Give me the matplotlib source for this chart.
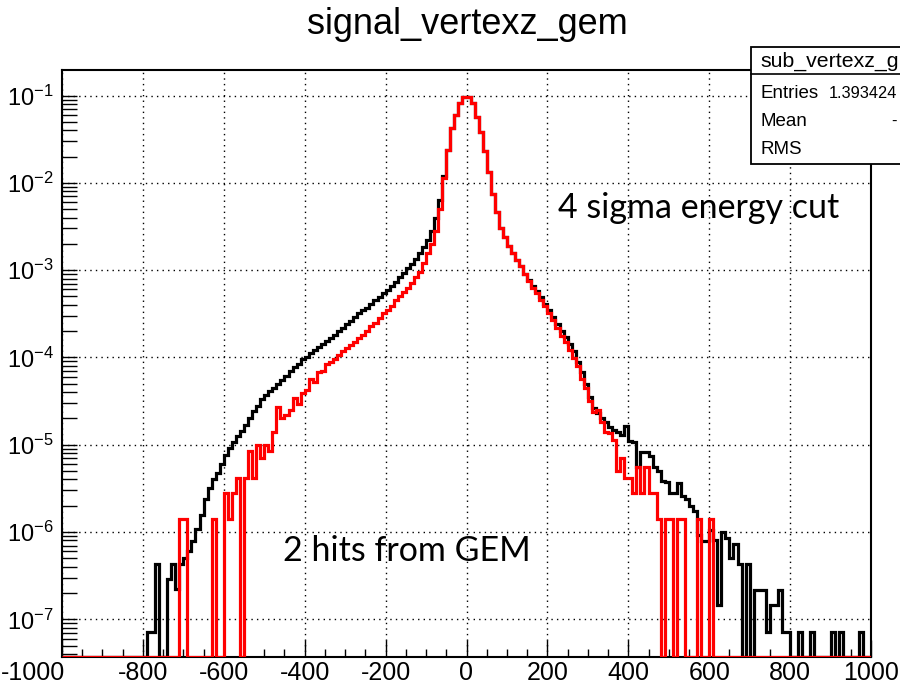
import numpy as np
import matplotlib
matplotlib.use("Agg")
import matplotlib.pyplot as plt
import matplotlib.transforms as mtransforms
from matplotlib.ticker import MultipleLocator, LogLocator, NullFormatter, FixedLocator
from matplotlib.patches import Rectangle
from matplotlib.lines import Line2D

plt.rcParams['font.family'] = ['Liberation Sans', 'DejaVu Sans']
plt.rcParams['mathtext.fontset'] = 'custom'
plt.rcParams['mathtext.rm'] = 'Liberation Sans'
plt.rcParams['mathtext.it'] = 'Liberation Sans'
plt.rcParams['mathtext.bf'] = 'Liberation Sans'

# ---------------- data ----------------
title = "signal_vertexz_gem"
x_min, x_max, n_bins = -1000, 1000, 200
x_ticks = [-1000, -800, -600, -400, -200, 0, 200, 400, 600, 800, 1000]
y_ticks = [1e-7, 1e-6, 1e-5, 1e-4, 1e-3, 1e-2, 1e-1]

# black histogram (all events), bins of width 10 from -1000 to 1000
black_vals = [
    0, 0, 0, 0, 0, 0, 0, 0, 0, 0,                                              # -995..-905
    0, 0, 0, 0, 0, 0, 0, 0, 0, 0,                                              # -895..-805
    0, 7.2e-8, 7.2e-8, 4.3e-7, 0, 0, 2.9e-7, 4.3e-7, 2.2e-7, 4.3e-7,           # -795..-705
    5.0e-7, 6.0e-7, 7.9e-7, 1.07e-6, 1.58e-6, 2.4e-6, 3.2e-6, 4.0e-6, 4.8e-6, 6.0e-6,   # -695..-605
    7.6e-6, 9.1e-6, 1.07e-5, 1.26e-5, 1.45e-5, 1.66e-5, 2.0e-5, 2.45e-5, 2.8e-5, 3.3e-5, # -595..-505
    3.7e-5, 4.1e-5, 4.5e-5, 4.9e-5, 5.5e-5, 6.2e-5, 6.9e-5, 7.8e-5, 8.5e-5, 9.5e-5,     # -495..-405
    1.02e-4, 1.12e-4, 1.2e-4, 1.32e-4, 1.41e-4, 1.55e-4, 1.66e-4, 1.8e-4, 2.0e-4, 2.2e-4, # -395..-305
    2.4e-4, 2.6e-4, 2.9e-4, 3.2e-4, 3.5e-4, 3.7e-4, 4.1e-4, 4.5e-4, 4.9e-4, 5.4e-4,     # -295..-205
    5.9e-4, 6.6e-4, 7.4e-4, 8.3e-4, 9.3e-4, 1.05e-3, 1.17e-3, 1.35e-3, 1.58e-3, 1.86e-3, # -195..-105
    2.24e-3, 2.8e-3, 4.0e-3, 6.3e-3, 1.2e-2, 2.4e-2, 4.2e-2, 6.0e-2, 8.3e-2, 9.6e-2,    # -95..-5
    9.6e-2, 8.3e-2, 5.6e-2, 3.8e-2, 2.3e-2, 1.32e-2, 7.4e-3, 4.6e-3, 3.0e-3, 2.4e-3,    # 5..95
    1.9e-3, 1.55e-3, 1.29e-3, 1.1e-3, 9.1e-4, 7.8e-4, 6.6e-4, 5.75e-4, 4.9e-4, 4.1e-4,  # 105..195
    3.5e-4, 2.9e-4, 2.4e-4, 2.0e-4, 1.7e-4, 1.41e-4, 1.17e-4, 8.9e-5, 6.8e-5, 5.0e-5,   # 205..295
    3.5e-5, 2.6e-5, 2.3e-5, 2.0e-5, 1.8e-5, 1.58e-5, 1.48e-5, 1.38e-5, 1.29e-5, 1.62e-5, # 305..395
    1.1e-5, 1.07e-5, 5.6e-6, 8.3e-6, 8.3e-6, 7.4e-6, 5.5e-6, 5.0e-6, 3.8e-6, 3.7e-6,    # 405..495
    2.8e-6, 2.8e-6, 3.6e-6, 2.6e-6, 2.4e-6, 2.0e-6, 1.75e-6, 9.3e-7, 7.8e-7, 7.8e-7,    # 505..595
    1.05e-6, 8.1e-7, 1.44e-7, 1.0e-6, 8.6e-7, 5.0e-7, 7.2e-7, 4.3e-7, 0, 4.3e-7,       # 605..695
    0, 2.15e-7, 2.15e-7, 2.15e-7, 7.2e-8, 1.44e-7, 1.44e-7, 2.15e-7, 7.2e-8, 7.2e-8,   # 705..795
    0, 0, 7.2e-8, 0, 0, 7.2e-8, 0, 0, 0, 0,                                        # 805..895
    7.2e-8, 0, 7.2e-8, 0, 0, 0, 0, 7.2e-8, 0, 0,                                   # 905..995
]

# red histogram (2 hits from GEM)
red_vals = [
    0, 0, 0, 0, 0, 0, 0, 0, 0, 0,                                              # -995..-905
    0, 0, 0, 0, 0, 0, 0, 0, 0, 0,                                              # -895..-805
    0, 0, 0, 0, 0, 0, 0, 0, 0, 1.4e-6,                                         # -795..-705
    1.4e-6, 0, 0, 0, 0, 0, 0, 1.4e-6, 0, 0,                                    # -695..-605
    2.8e-6, 1.4e-6, 2.8e-6, 4.2e-6, 0, 4.2e-6, 8.4e-6, 4.2e-6, 9.8e-6, 7.0e-6,      # -595..-505
    9.8e-6, 8.4e-6, 1.4e-5, 2.7e-5, 2.0e-5, 2.2e-5, 2.5e-5, 3.4e-5, 2.9e-5, 3.9e-5,    # -495..-405
    4.2e-5, 5.6e-5, 5.2e-5, 6.8e-5, 7.0e-5, 8.3e-5, 8.9e-5, 9.5e-5, 1.07e-4, 1.17e-4,  # -395..-305
    1.29e-4, 1.38e-4, 1.5e-4, 1.66e-4, 1.8e-4, 2.0e-4, 2.3e-4, 2.5e-4, 2.8e-4, 3.2e-4, # -295..-205
    3.5e-4, 3.9e-4, 4.5e-4, 5.0e-4, 5.6e-4, 6.3e-4, 7.2e-4, 8.3e-4, 9.5e-4, 1.2e-3,    # -195..-105
    1.58e-3, 2.0e-3, 2.8e-3, 5.0e-3, 1.15e-2, 2.4e-2, 4.2e-2, 6.0e-2, 8.3e-2, 9.6e-2,  # -95..-5
    9.6e-2, 8.3e-2, 5.6e-2, 3.8e-2, 2.3e-2, 1.32e-2, 7.4e-3, 4.6e-3, 3.0e-3, 2.4e-3,   # 5..95
    1.9e-3, 1.55e-3, 1.29e-3, 1.1e-3, 9.1e-4, 7.6e-4, 6.3e-4, 5.5e-4, 4.5e-4, 3.9e-4,  # 105..195
    3.2e-4, 2.7e-4, 2.2e-4, 1.75e-4, 1.5e-4, 1.2e-4, 9.8e-5, 7.9e-5, 5.6e-5, 4.5e-5,   # 205..295
    3.2e-5, 2.4e-5, 2.5e-5, 1.8e-5, 1.4e-5, 1.35e-5, 1.12e-5, 5.0e-6, 7.0e-6, 4.2e-6,  # 305..395
    4.2e-6, 2.8e-6, 5.6e-6, 2.8e-6, 5.6e-6, 2.8e-6, 2.8e-6, 1.4e-6, 0, 1.4e-6,        # 405..495
    1.4e-6, 0, 1.4e-6, 1.4e-6, 0, 0, 0, 1.4e-6, 0, 0,                                 # 505..595
    1.4e-6, 0, 0, 0, 0, 0, 0, 0, 0, 0,                                                # 605..695
    0, 0, 0, 0, 0, 0, 0, 0, 0, 0,                                                     # 705..795
    0, 0, 0, 0, 0, 0, 0, 0, 0, 0,                                                     # 805..895
    0, 0, 0, 0, 0, 0, 0, 0, 0, 0,                                                     # 905..995
]

# stats box texts as far as they are visible in the original canvas
stats_title = "sub_vertexz_g"
stats_rows = [("Entries", "1.393424"), ("Mean", "-"), ("RMS", "")]
label_cut = "4 sigma energy cut"
label_gem = "2 hits from GEM"

# ---------------- figure ----------------
W, H = 900, 686
fig = plt.figure(figsize=(W / 100, H / 100), dpi=100)
L, R, T, B = 62, 871, 70, 657
ax = fig.add_axes([L / W, 1 - B / H, (R - L) / W, (B - T) / H])

y_lo, y_hi = 3.7e-8, 0.196
ax.set_yscale('log')
ax.set_xlim(x_min, x_max)
ax.set_ylim(y_lo, y_hi)

edges = np.linspace(x_min, x_max, n_bins + 1)
bv = np.array(black_vals, dtype=float)
rv = np.array(red_vals, dtype=float)
ax.stairs(np.where(bv > 0, bv, y_lo), edges, baseline=None, color='black', lw=2.3, zorder=3)
ax.stairs(np.where(rv > 0, rv, y_lo), edges, baseline=None, color='#ff0000', lw=2.3, zorder=4)

ax.xaxis.set_major_locator(FixedLocator(x_ticks))
ax.xaxis.set_minor_locator(MultipleLocator(50))
ax.yaxis.set_major_locator(FixedLocator(y_ticks))
ax.yaxis.set_minor_locator(LogLocator(base=10, subs=np.arange(2, 10), numticks=20))
ax.yaxis.set_minor_formatter(NullFormatter())
ax.set_xticklabels([str(t) for t in x_ticks])
ax.set_yticklabels([r'$10^{%d}$' % int(round(np.log10(t))) for t in y_ticks])

ax.tick_params(axis='x', which='major', direction='in', length=12, width=1, labelsize=18, pad=3)
ax.tick_params(axis='x', which='minor', direction='in', length=6, width=1)
ax.tick_params(axis='y', which='major', direction='in', length=11, width=1, labelsize=17, pad=6)
ax.tick_params(axis='y', which='minor', direction='in', length=11, width=1)
ax.tick_params(top=False, right=False, which='both')

# first x label is kept inside the canvas (as ROOT does)
first = ax.get_xticklabels()[0]
first.set_horizontalalignment('right')
first.set_transform(first.get_transform() +
                    mtransforms.ScaledTranslation(3 / 100, 0, fig.dpi_scale_trans))

ax.grid(True, which='major', color='black', linestyle=(0, (1, 3)), lw=1)
for s in ax.spines.values():
    s.set_linewidth(1.5)
    s.set_color('black')

# title
fig.text(467 / W, 1 - 24 / H, title, ha='center', va='center', fontsize=26)

# annotations
fig.text(558 / W, 1 - 208 / H, label_cut, ha='left', va='center', fontsize=24.5,
         family=['Lato', 'DejaVu Sans'])
fig.text(283 / W, 1 - 551 / H, label_gem, ha='left', va='center', fontsize=24.5,
         family=['Lato', 'DejaVu Sans'])

# stats box (cut by the figure edge, as in the original canvas)
bx0, by0, bx1, by1 = 751, 47, 910, 164
fig.patches.append(Rectangle((bx0 / W, 1 - by1 / H), (bx1 - bx0) / W, (by1 - by0) / H,
                             transform=fig.transFigure, facecolor='white', edgecolor='black',
                             lw=1.3, zorder=10))
fig.lines.append(Line2D([bx0 / W, 1.0], [1 - 74 / H, 1 - 74 / H], transform=fig.transFigure,
                        color='black', lw=1.2, zorder=11))
fig.text(760 / W, 1 - 61 / H, stats_title, ha='left', va='center', fontsize=15.3, zorder=12)
row_y = [93, 121, 149]
for (name, val), yy in zip(stats_rows, row_y):
    fig.text(760 / W, 1 - yy / H, name, ha='left', va='center', fontsize=13.5, zorder=12)
    if val:
        xv = 829 if name == "Entries" else 891
        fig.text(xv / W, 1 - yy / H, val, ha='left', va='center', fontsize=11.8, zorder=12)

fig.savefig("out.png", dpi=100)
